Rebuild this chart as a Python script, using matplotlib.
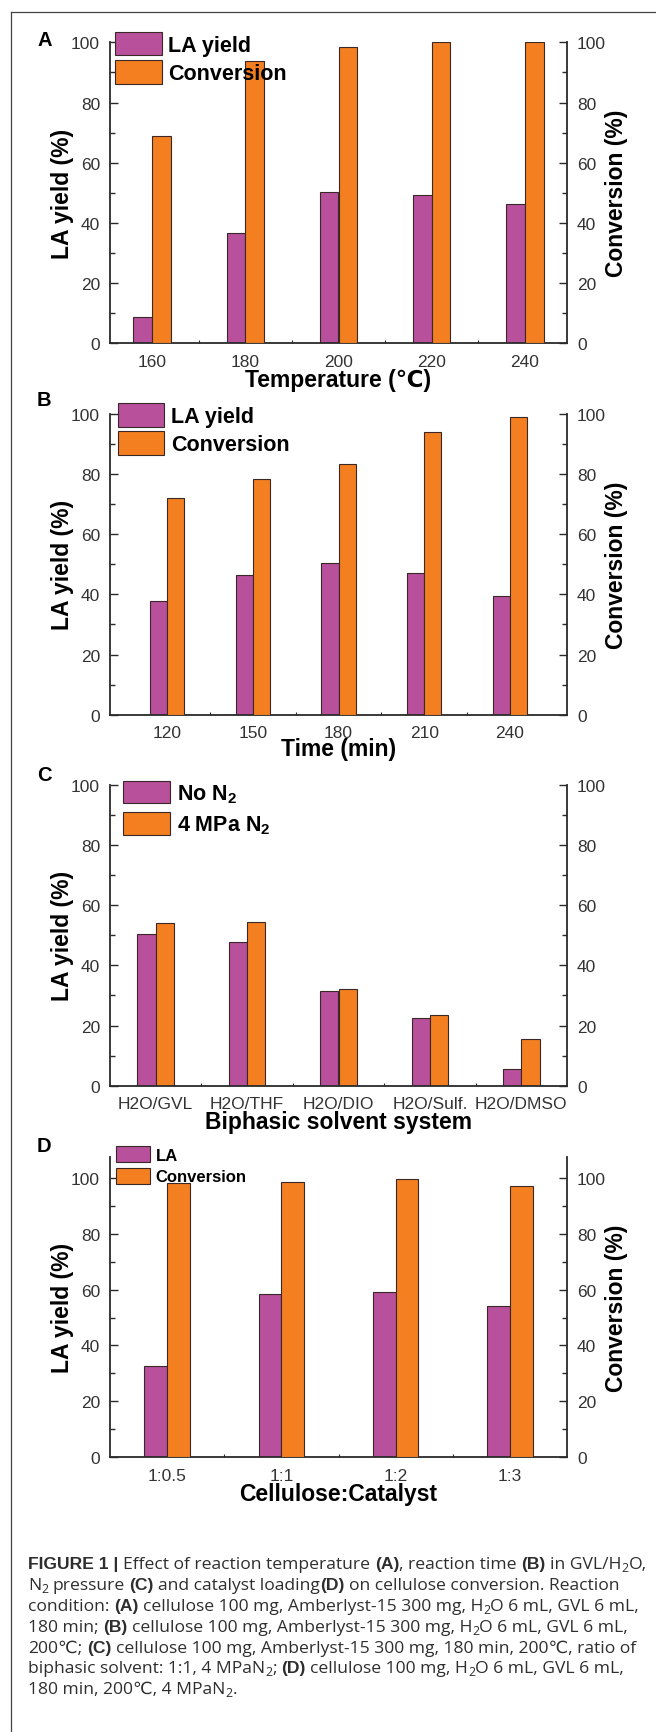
import matplotlib
matplotlib.use('Agg')
import matplotlib.pyplot as plt
from matplotlib.ticker import MultipleLocator
from matplotlib.lines import Line2D
import numpy as np

W, H, DPI = 656, 1733, 100

plt.rcParams['font.family'] = ['Liberation Sans', 'DejaVu Sans']
plt.rcParams['mathtext.fontset'] = 'custom'
plt.rcParams['mathtext.rm'] = 'Liberation Sans'
plt.rcParams['mathtext.bf'] = 'Liberation Sans:bold'
plt.rcParams['mathtext.it'] = 'Liberation Sans:italic'

# ---------------- data ----------------
temp_labels = ['160', '180', '200', '220', '240']
temp_la = [8.9, 36.8, 50.4, 49.4, 46.2]
temp_conv = [69.0, 93.8, 98.4, 100.0, 100.0]

time_labels = ['120', '150', '180', '210', '240']
time_la = [37.7, 46.5, 50.4, 47.1, 39.4]
time_conv = [72.1, 78.2, 83.4, 94.0, 98.9]

solvent_labels = ['H2O/GVL', 'H2O/THF', 'H2O/DIO', 'H2O/Sulf.', 'H2O/DMSO']
solvent_no_n2 = [50.3, 47.7, 31.4, 22.5, 5.5]
solvent_n2 = [54.1, 54.4, 32.0, 23.6, 15.6]

ratio_labels = ['1:0.5', '1:1', '1:2', '1:3']
ratio_la = [32.7, 58.4, 59.1, 54.2]
ratio_conv = [98.0, 98.3, 99.6, 97.0]

PURPLE = '#B8509B'
ORANGE = '#F47F20'
EDGE = '#3a2828'
SPINE = '#2a2a2a'
TICKC = '#333333'
CAPC = '#2e2e2e'
LABEL_FS = 16.5

fig = plt.figure(figsize=(W / DPI, H / DPI), dpi=DPI)
renderer = fig.canvas.get_renderer()


def fx(x):
    return x / W


def fy(y):
    return 1 - y / H


AX_L, AX_R = 110, 567


def panel(top, bottom, ylim_top, xlim, labels, s1, s2, name1, name2,
          xlabel, right_label, letter, letter_y, xlabel_y, leg):
    ax = fig.add_axes([fx(AX_L), fy(bottom), (AX_R - AX_L) / W, (bottom - top) / H])
    ax2 = ax.twinx()
    x = np.arange(len(labels))
    w = 0.2
    b1 = ax.bar(x - w / 2, s1, w, color=PURPLE, edgecolor=EDGE, linewidth=0.8)
    tgt = ax2 if right_label else ax
    b2 = tgt.bar(x + w / 2, s2, w, color=ORANGE, edgecolor=EDGE, linewidth=0.8)
    for a in (ax, ax2):
        a.set_ylim(0, ylim_top)
        a.set_xlim(*xlim)
        a.yaxis.set_major_locator(MultipleLocator(20))
        a.yaxis.set_minor_locator(MultipleLocator(10))
        a.spines['top'].set_visible(False)
    ax.spines['right'].set_visible(False)
    for s in ('left', 'bottom'):
        ax2.spines[s].set_visible(False)
    for s in ('left', 'bottom'):
        ax.spines[s].set_color(SPINE)
        ax.spines[s].set_linewidth(1.3)
    ax2.spines['right'].set_color(SPINE)
    ax2.spines['right'].set_linewidth(1.3)

    for a in (ax, ax2):
        a.tick_params(axis='y', which='major', direction='in', length=5.8, width=1.0,
                      color=SPINE, labelsize=12.5, labelcolor=TICKC, pad=7.2)
        a.tick_params(axis='y', which='minor', direction='in', length=3.6, width=1.0,
                      color=SPINE)
    ax.set_xticks(x)
    ax.set_xticklabels(labels)
    ax.tick_params(axis='x', which='major', length=0, pad=7.7, labelsize=12.5,
                   labelcolor=TICKC)
    ax.set_xticks(np.arange(len(labels) - 1) + 0.5, minor=True)
    ax.tick_params(axis='x', which='minor', direction='in', length=2.5, width=0.8,
                   color=SPINE)

    ax.set_ylabel('LA yield (%)', fontsize=LABEL_FS, fontweight='bold')
    ax.yaxis.set_label_coords((63 - AX_L) / (AX_R - AX_L), 0.5)
    ax.yaxis.label.set_va('center')
    if right_label:
        ax2.set_ylabel(right_label, fontsize=LABEL_FS, fontweight='bold', rotation=90)
        ax2.yaxis.set_label_coords((617 - AX_L) / (AX_R - AX_L), 0.5)
        ax2.yaxis.label.set_va('center')

    ax.set_xlabel(xlabel, fontsize=LABEL_FS, fontweight='bold')
    ax.xaxis.set_label_coords(0.5, (bottom - xlabel_y) / (bottom - top))
    ax.xaxis.label.set_va('center')

    fig.text(fx(37), fy(letter_y), letter, fontsize=14.5, fontweight='bold',
             ha='left', va='center')

    lx, ly, fs, hl, hh, htp, ls = leg
    ax2.legend([b1, b2], [name1, name2], loc='upper left',
               bbox_to_anchor=(fx(lx), fy(ly)), bbox_transform=fig.transFigure,
               frameon=False, borderpad=0, borderaxespad=0, handlelength=hl,
               handleheight=hh, handletextpad=htp, labelspacing=ls,
               prop={'size': fs, 'weight': 'bold'})
    return ax, ax2


panel(43.3, 344.3, 100, (-0.45, 4.45), temp_labels, temp_la, temp_conv,
      'LA yield', 'Conversion', 'Temperature (\u2103)', 'Conversion (%)',
      'A', 40.5, 380, (115, 33, 15.5, 2.19, 1.27, 0.28, 0.22))
panel(414.7, 715.7, 100, (-0.665, 4.665), time_labels, time_la, time_conv,
      'LA yield', 'Conversion', 'Time (min)', 'Conversion (%)',
      'B', 400, 750, (118, 404, 15.5, 2.14, 1.34, 0.33, 0.19))
panel(786, 1086.7, 100, (-0.5, 4.5), solvent_labels, solvent_no_n2, solvent_n2,
      'No N$_\\mathbf{2}$', '4 MPa N$_\\mathbf{2}$', 'Biphasic solvent system', None,
      'C', 776, 1123, (123, 782, 15.5, 2.19, 1.23, 0.3, 0.33))
panel(1158.3, 1458.3, 107.3, (-0.5, 3.5), ratio_labels, ratio_la, ratio_conv,
      'LA', 'Conversion', 'Cellulose:Catalyst', 'Conversion (%)',
      'D', 1146.5, 1495, (116, 1147, 12, 2.04, 1.1, 0.33, 0.29))

# ---------------- frame ----------------
fig.add_artist(Line2D([fx(10.7), fx(W + 5)], [fy(12.7), fy(12.7)], color='#444444', lw=0.9))
fig.add_artist(Line2D([fx(10.7), fx(10.7)], [fy(12.7), fy(H + 5)], color='#444444', lw=0.9))

# ---------------- caption ----------------
caption_lines = [
    [('FIGURE 1 | ', 'b'), ('Effect of reaction temperature ', 'r'), ('(A)', 'b'),
     (', reaction time ', 'r'), ('(B)', 'b'), (' in GVL/H', 'r'), ('2', 's'), ('O,', 'r')],
    [('N', 'r'), ('2', 's'), (' pressure ', 'r'), ('(C)', 'b'), (' and catalyst loading', 'r'),
     ('(D)', 'b'), (' on cellulose conversion. Reaction', 'r')],
    [('condition: ', 'r'), ('(A)', 'b'), (' cellulose 100 mg, Amberlyst-15 300 mg, H', 'r'),
     ('2', 's'), ('O 6 mL, GVL 6 mL,', 'r')],
    [('180 min; ', 'r'), ('(B)', 'b'), (' cellulose 100 mg, Amberlyst-15 300 mg, H', 'r'),
     ('2', 's'), ('O 6 mL, GVL 6 mL,', 'r')],
    [('200\u2103; ', 'r'), ('(C)', 'b'),
     (' cellulose 100 mg, Amberlyst-15 300 mg, 180 min, 200\u2103, ratio of', 'r')],
    [('biphasic solvent: 1:1, 4 MPaN', 'r'), ('2', 's'), ('; ', 'r'), ('(D)', 'b'),
     (' cellulose 100 mg, H', 'r'), ('2', 's'), ('O 6 mL, GVL 6 mL,', 'r')],
    [('180 min, 200\u2103, 4 MPaN', 'r'), ('2', 's'), ('.', 'r')],
]

REG_FAMILY = ['Open Sans', 'DejaVu Sans']
BOLD_FAMILY = ['Liberation Sans', 'DejaVu Sans']


def style_kw(kind, size):
    if kind == 's':
        return dict(fontsize=size * 0.7, family=REG_FAMILY, fontweight='normal', color=CAPC), 3.0
    if kind == 'b':
        return dict(fontsize=size, family=BOLD_FAMILY, fontweight='bold', color=CAPC), 0.0
    return dict(fontsize=size, family=REG_FAMILY, fontweight='normal', color=CAPC), 0.0


def text_w(s, kw):
    t1 = fig.text(0, 0, 'H' + s + 'H', **kw)
    t2 = fig.text(0, 0, 'HH', **kw)
    w = t1.get_window_extent(renderer).width - t2.get_window_extent(renderer).width
    t1.remove()
    t2.remove()
    return w


def layout_line(x0, base_y, runs, size, draw=True):
    x = x0
    for s, kind in runs:
        kw, dy = style_kw(kind, size)
        core = s.strip(' ')
        lead = len(s) - len(s.lstrip(' '))
        trail = len(s) - len(s.rstrip(' '))
        sp = text_w(' ', kw)
        x += lead * sp
        if core:
            if draw:
                fig.text(fx(x), fy(base_y + dy), core, ha='left', va='baseline', **kw)
            x += text_w(core, kw)
        x += trail * sp
    return x


# fit the caption size so that the first line spans the same width as in the page
base = 12.0
w_first = layout_line(0, 0, caption_lines[0], base, draw=False)
cap_size = base * (643 - 28) / w_first

for i, runs in enumerate(caption_lines):
    layout_line(28, 1569.5 + i * 20.8, runs, cap_size)

fig.savefig('out.png', dpi=DPI)
